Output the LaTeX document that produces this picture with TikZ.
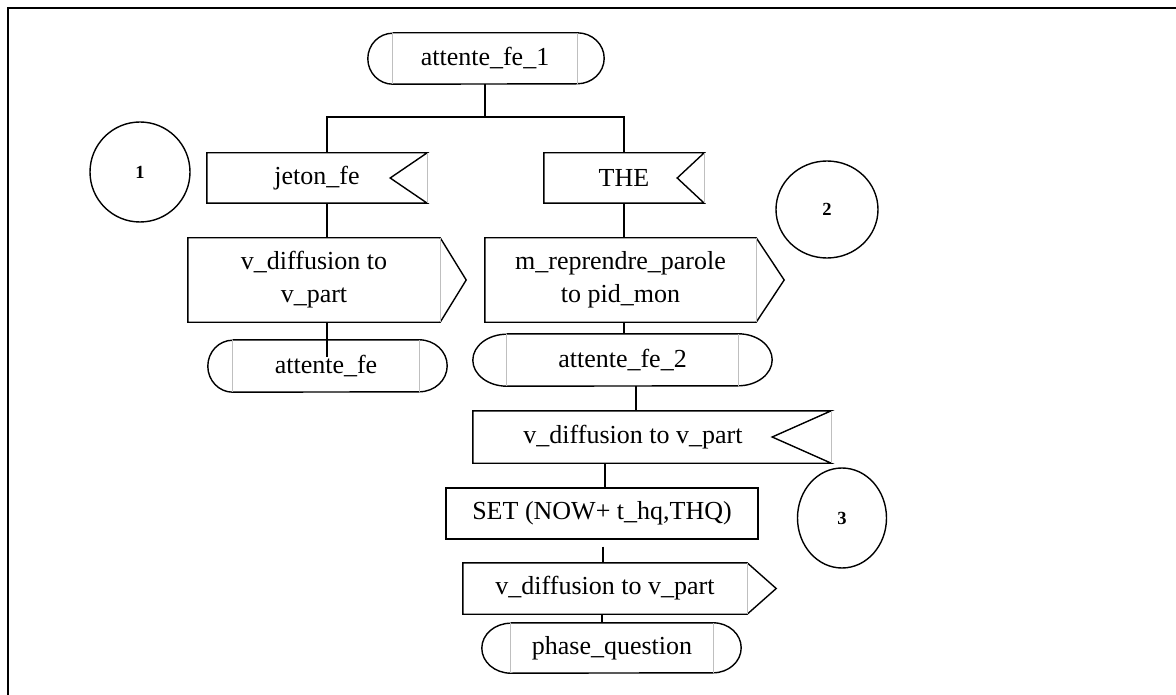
\documentclass[tikz,border=0pt]{standalone}
\usepackage{fontspec}
\setmainfont{Liberation Serif}
\usetikzlibrary{shapes.geometric,calc}
\begin{document}
\begin{tikzpicture}[x=1pt,y=-1pt,
  lbl/.style={draw=none,inner sep=0pt,font=\fontsize{26}{33}\selectfont,align=center},
  ln/.style={line width=1.4pt,black},
  gl/.style={line width=0.8pt,black!25},
  num/.style={draw,line width=1.4pt,ellipse,inner sep=0pt,font=\fontsize{18.5}{20}\selectfont\bfseries},
]
\useasboundingbox (0,0) rectangle (1176,695);
\draw[line width=2.2pt] (8,697) -- (8,8) -- (1178,8);

% terminators
\node[lbl,minimum width=184pt,minimum height=51pt] (t1) at (485,58.5) {attente\_fe\_1};
\node[lbl,minimum width=231pt,minimum height=52pt] (t2) at (622.5,360) {attente\_fe\_2};
\node[lbl,minimum width=186pt,minimum height=52pt] (te) at (326,366) {attente\_fe};
\node[lbl,minimum width=202pt,minimum height=50pt] (pq) at (612,648) {phase\_question};

\foreach \n/\l/\r/\h in {t1/25/27/25.5, t2/34/34/26, te/25/28/26, pq/29/28/25}{
  \draw[ln] (\n.north west) -- (\n.north east)
     arc[start angle=90,end angle=-90,x radius=\r pt,y radius=\h pt]
     -- (\n.south west)
     arc[start angle=270,end angle=90,x radius=\l pt,y radius=\h pt];
  \draw[gl] (\n.north west) -- (\n.south west);
  \draw[gl] (\n.north east) -- (\n.south east);
}

% input (notched) boxes
\node[lbl,minimum width=220pt,minimum height=50pt] (jeton) at (317,178) {jeton\_fe};
\node[lbl,minimum width=160pt,minimum height=50pt] (the) at (624,178) {THE};
\node[lbl,minimum width=358pt,minimum height=52pt] (vdn) at (652,437) {v\_diffusion to v\_part\hspace*{38pt}};
\foreach \n/\d in {jeton/37, the/27, vdn/59}{
  \draw[ln] (\n.north east) -- (\n.north west) -- (\n.south west) -- (\n.south east)
     -- ([xshift=-\d pt]\n.east) -- cycle;
  \draw[gl] (\n.north east) -- (\n.south east);
}

% output (arrow) boxes
\node[lbl,minimum width=252pt,minimum height=84pt] (vdl) at (314,280) {v\_diffusion to\\v\_part};
\node[lbl,minimum width=271pt,minimum height=84pt] (mrp) at (620.5,280) {m\_reprendre\_parole\\to pid\_mon};
\node[lbl,minimum width=284pt,minimum height=51pt] (vdr) at (605,588.5) {v\_diffusion to v\_part};
\foreach \n/\d in {vdl/26, mrp/28, vdr/29}{
  \draw[ln] (\n.north east) -- (\n.north west) -- (\n.south west) -- (\n.south east)
     -- ([xshift=\d pt]\n.east) -- cycle;
  \draw[gl] (\n.north east) -- (\n.south east);
}

% task box
\node[lbl,draw,line width=1.4pt,minimum width=312pt,minimum height=51pt] (set) at (602,513.5) {SET (NOW+ t\_hq,THQ)};

% numbered circles
\node[num,minimum width=100pt,minimum height=100pt] (c1) at (140,172) {1};
\node[num,minimum width=102pt,minimum height=97pt] (c2) at (827,209.5) {2};
\node[num,minimum width=89pt,minimum height=100pt] (c3) at (842,518) {3};

% connectors
\draw[ln] (t1.south) -- ++(0,33) coordinate (split);
\draw[ln] ([xshift=10pt]jeton.north) |- (split) -| (the.north);
\draw[ln] ([xshift=10pt]jeton.south) -- ([xshift=13pt]vdl.north);
\draw[ln] ([xshift=13pt]vdl.south) -- ([xshift=1pt,yshift=-17pt]te.north);
\draw[ln] (the.south) -- ([xshift=3.5pt]mrp.north);
\draw[ln] ([xshift=3.5pt]mrp.south) -- ([xshift=1.5pt]t2.north);
\draw[ln] ([xshift=13.5pt]t2.south) -- ([xshift=-16pt]vdn.north);
\draw[ln] ([xshift=-47pt]vdn.south) -- ([xshift=3pt]set.north);
\draw[ln] ([xshift=1pt,yshift=-7pt]set.south) -- ([xshift=-2pt]vdr.north);
\draw[ln] ([xshift=-3pt]vdr.south) -- ([xshift=-10pt]pq.north);
\end{tikzpicture}
\end{document}
